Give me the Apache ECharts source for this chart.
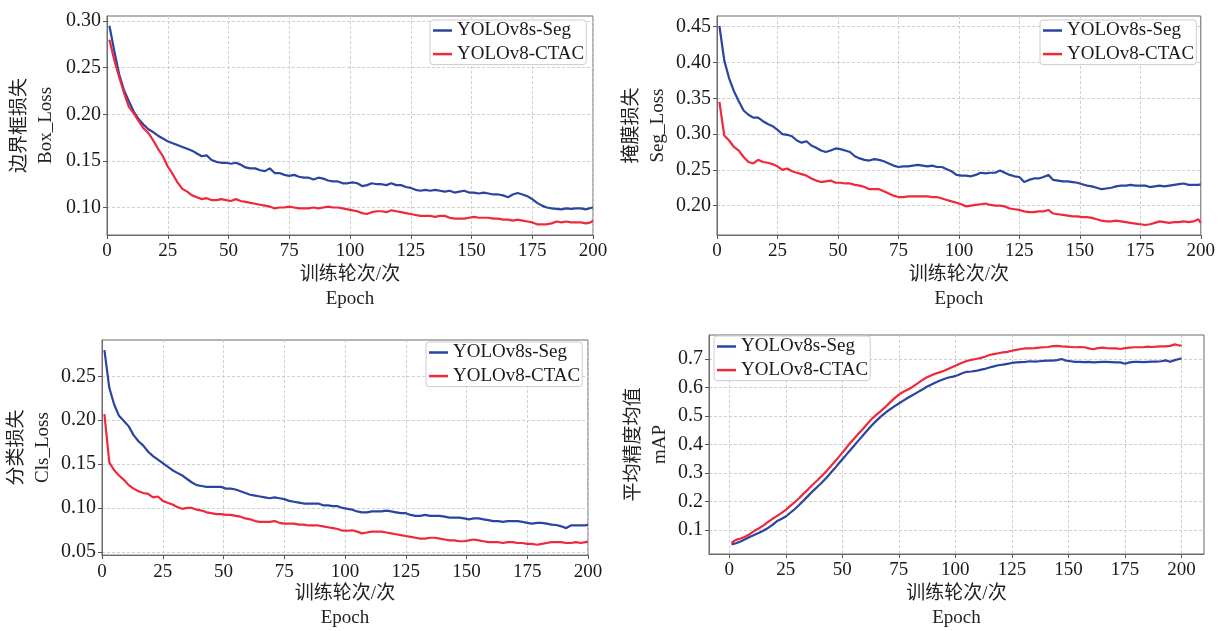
<!DOCTYPE html>
<html><head><meta charset="utf-8">
<script src="https://cdn.jsdelivr.net/npm/echarts@6/dist/echarts.min.js"></script>
<style>html,body{margin:0;padding:0;background:#fff}#c{width:1218px;height:631px}</style>
</head><body><div id="c"></div>
<script>
const epochs = [1,3,5,7,9,11,13,15,17,19,21,23,25,27,29,31,33,35,37,39,41,43,45,47,49,51,53,55,57,59,61,63,65,67,69,71,73,75,77,79,81,83,85,87,89,91,93,95,97,99,101,103,105,107,109,111,113,115,117,119,121,123,125,127,129,131,133,135,137,139,141,143,145,147,149,151,153,155,157,159,161,163,165,167,169,171,173,175,177,179,181,183,185,187,189,191,193,195,197,199,200];

const boxSeg = [0.295,0.268,0.243,0.226,0.214,0.203,0.195,0.189,0.184,0.181,0.177,0.174,0.171,0.169,0.167,0.165,0.163,0.161,0.158,0.155,0.156,0.151,0.149,0.148,0.148,0.147,0.148,0.146,0.143,0.142,0.142,0.140,0.139,0.142,0.137,0.137,0.135,0.134,0.135,0.133,0.132,0.132,0.130,0.132,0.131,0.129,0.128,0.128,0.126,0.126,0.127,0.126,0.123,0.124,0.126,0.125,0.125,0.124,0.126,0.124,0.124,0.122,0.121,0.119,0.118,0.119,0.118,0.119,0.118,0.117,0.118,0.116,0.117,0.118,0.116,0.116,0.115,0.116,0.115,0.114,0.114,0.113,0.111,0.114,0.1155,0.114,0.112,0.109,0.105,0.102,0.100,0.099,0.0985,0.098,0.099,0.0985,0.099,0.099,0.098,0.0995,0.100];
const boxCtac = [0.280,0.258,0.240,0.223,0.208,0.201,0.193,0.185,0.180,0.172,0.163,0.155,0.144,0.136,0.127,0.120,0.117,0.113,0.111,0.109,0.110,0.108,0.108,0.109,0.108,0.107,0.109,0.107,0.106,0.105,0.104,0.103,0.102,0.101,0.099,0.100,0.100,0.101,0.100,0.099,0.099,0.099,0.100,0.099,0.100,0.101,0.100,0.100,0.099,0.098,0.097,0.096,0.094,0.093,0.095,0.096,0.096,0.095,0.097,0.096,0.095,0.094,0.093,0.092,0.091,0.091,0.091,0.090,0.091,0.091,0.089,0.088,0.088,0.088,0.089,0.090,0.089,0.089,0.089,0.088,0.088,0.087,0.087,0.086,0.087,0.086,0.085,0.084,0.082,0.082,0.082,0.083,0.085,0.084,0.085,0.084,0.084,0.084,0.083,0.084,0.086];

const segSeg = [0.451,0.403,0.378,0.360,0.346,0.333,0.327,0.323,0.323,0.318,0.314,0.311,0.306,0.300,0.299,0.297,0.291,0.288,0.290,0.284,0.281,0.277,0.275,0.277,0.280,0.279,0.277,0.275,0.269,0.266,0.264,0.263,0.265,0.264,0.262,0.259,0.256,0.254,0.255,0.255,0.256,0.257,0.256,0.255,0.256,0.254,0.254,0.251,0.248,0.243,0.242,0.242,0.241,0.243,0.246,0.245,0.246,0.246,0.249,0.246,0.243,0.241,0.240,0.233,0.236,0.238,0.238,0.240,0.243,0.236,0.235,0.234,0.234,0.233,0.232,0.230,0.228,0.227,0.225,0.223,0.224,0.225,0.227,0.228,0.228,0.229,0.228,0.228,0.228,0.226,0.227,0.228,0.227,0.228,0.229,0.230,0.231,0.229,0.229,0.229,0.230];
const segCtac = [0.345,0.298,0.291,0.282,0.277,0.268,0.261,0.259,0.264,0.261,0.260,0.258,0.255,0.250,0.252,0.248,0.246,0.244,0.242,0.238,0.235,0.233,0.234,0.235,0.232,0.232,0.231,0.231,0.229,0.228,0.226,0.223,0.223,0.223,0.220,0.217,0.214,0.212,0.212,0.213,0.213,0.213,0.213,0.213,0.212,0.212,0.210,0.208,0.206,0.204,0.202,0.199,0.200,0.201,0.202,0.203,0.201,0.200,0.200,0.199,0.196,0.195,0.194,0.192,0.191,0.191,0.192,0.192,0.194,0.189,0.188,0.187,0.186,0.185,0.185,0.184,0.184,0.183,0.181,0.179,0.178,0.178,0.179,0.178,0.177,0.176,0.175,0.174,0.173,0.174,0.176,0.178,0.177,0.176,0.177,0.177,0.178,0.177,0.178,0.181,0.176];

const clsSeg = [0.280,0.237,0.218,0.205,0.199,0.193,0.183,0.176,0.171,0.164,0.159,0.155,0.151,0.147,0.143,0.140,0.137,0.133,0.129,0.126,0.125,0.124,0.124,0.124,0.124,0.122,0.122,0.121,0.119,0.117,0.115,0.114,0.113,0.112,0.111,0.112,0.111,0.110,0.108,0.107,0.106,0.105,0.105,0.105,0.105,0.103,0.103,0.102,0.102,0.100,0.099,0.098,0.096,0.095,0.095,0.096,0.096,0.096,0.097,0.096,0.095,0.094,0.094,0.092,0.091,0.091,0.092,0.091,0.091,0.091,0.090,0.089,0.089,0.089,0.088,0.087,0.088,0.088,0.087,0.086,0.085,0.085,0.084,0.085,0.085,0.085,0.084,0.083,0.082,0.083,0.083,0.082,0.081,0.0805,0.079,0.077,0.080,0.080,0.080,0.080,0.081];
const clsCtac = [0.207,0.152,0.143,0.137,0.132,0.126,0.122,0.119,0.117,0.116,0.112,0.113,0.108,0.106,0.104,0.101,0.099,0.100,0.100,0.098,0.097,0.095,0.094,0.093,0.093,0.092,0.092,0.091,0.090,0.088,0.087,0.085,0.084,0.084,0.084,0.085,0.083,0.082,0.082,0.082,0.081,0.081,0.080,0.080,0.080,0.079,0.078,0.077,0.076,0.074,0.074,0.0745,0.073,0.071,0.072,0.073,0.073,0.073,0.072,0.071,0.070,0.069,0.068,0.067,0.066,0.065,0.065,0.066,0.066,0.065,0.064,0.063,0.063,0.062,0.062,0.063,0.064,0.063,0.062,0.061,0.061,0.061,0.060,0.061,0.061,0.060,0.060,0.059,0.059,0.058,0.059,0.060,0.061,0.061,0.061,0.060,0.060,0.061,0.060,0.061,0.0615];

const mapSeg = [0.050,0.054,0.060,0.068,0.076,0.083,0.090,0.098,0.107,0.118,0.131,0.139,0.148,0.161,0.174,0.189,0.205,0.221,0.237,0.252,0.267,0.284,0.302,0.320,0.339,0.357,0.376,0.394,0.413,0.431,0.449,0.467,0.483,0.498,0.511,0.523,0.534,0.544,0.554,0.564,0.573,0.582,0.591,0.601,0.609,0.617,0.624,0.630,0.635,0.638,0.643,0.650,0.655,0.656,0.658,0.662,0.665,0.670,0.674,0.678,0.680,0.683,0.686,0.688,0.689,0.690,0.692,0.691,0.692,0.693,0.694,0.694,0.696,0.700,0.694,0.692,0.690,0.690,0.689,0.690,0.688,0.689,0.690,0.690,0.689,0.688,0.688,0.683,0.688,0.690,0.690,0.689,0.690,0.691,0.691,0.692,0.695,0.690,0.696,0.700,0.702];
const mapCtac = [0.056,0.066,0.071,0.077,0.086,0.097,0.106,0.116,0.128,0.139,0.149,0.160,0.171,0.185,0.198,0.213,0.229,0.244,0.260,0.275,0.291,0.307,0.325,0.343,0.362,0.381,0.401,0.419,0.437,0.454,0.472,0.490,0.504,0.517,0.531,0.547,0.562,0.575,0.585,0.593,0.602,0.613,0.624,0.634,0.641,0.648,0.653,0.659,0.666,0.673,0.680,0.687,0.693,0.697,0.700,0.703,0.708,0.714,0.717,0.720,0.723,0.725,0.729,0.732,0.735,0.737,0.737,0.738,0.740,0.741,0.742,0.745,0.746,0.744,0.743,0.742,0.741,0.742,0.741,0.737,0.734,0.738,0.740,0.738,0.737,0.737,0.735,0.738,0.740,0.741,0.741,0.741,0.743,0.742,0.743,0.744,0.744,0.746,0.751,0.747,0.748];

const xTicks = [0,25,50,75,100,125,150,175,200];
const boxTicks = [0.10,0.15,0.20,0.25,0.30];
const segTicks = [0.20,0.25,0.30,0.35,0.40,0.45];
const clsTicks = [0.05,0.10,0.15,0.20,0.25];
const mapTicks = [0.1,0.2,0.3,0.4,0.5,0.6,0.7];
const seriesNames = ['YOLOv8s-Seg','YOLOv8-CTAC'];
const yNames = ['边界框损失\nBox_Loss','掩膜损失\nSeg_Loss','分类损失\nCls_Loss','平均精度均值\nmAP'];
const xName = '训练轮次/次\nEpoch';

const BLUE = '#2A44A0', RED = '#F0283C';
const FONT = "'Liberation Serif','Noto Sans CJK SC',serif";

const panels = [
  {grid:{left:107,top:16,width:486,height:219}, xr:[0,200], yr:[0.0705,0.3055], yt:boxTicks, dec:2, lg:{left:430,top:20}, ng:48, xg:28, d:[boxSeg,boxCtac]},
  {grid:{left:717,top:16,width:485,height:219}, xr:[0,200], yr:[0.159,0.465], yt:segTicks, dec:2, lg:{left:1040,top:20}, ng:46, xg:28, d:[segSeg,segCtac]},
  {grid:{left:102,top:340,width:486,height:220}, xr:[0,200], yr:[0.0462,0.2915], yt:clsTicks, dec:2, lg:{left:426,top:342}, ng:46, xg:26, d:[clsSeg,clsCtac]},
  {grid:{left:709,top:335,width:495,height:223}, xr:[-8.95,209.95], yr:[0.0165,0.784], yt:mapTicks, dec:1, lg:{left:714,top:336}, ng:36, xg:28, d:[mapSeg,mapCtac]}
];

const grid=[], xAxis=[], yAxis=[], series=[], legend=[];
panels.forEach((p,i)=>{
  grid.push(Object.assign({show:true, borderColor:'#6b6b6b', borderWidth:1, backgroundColor:'#fff'}, p.grid));
  xAxis.push({
    type:'value', gridIndex:i, min:p.xr[0], max:p.xr[1],
    name:xName, nameLocation:'middle', nameGap:p.xg,
    nameTextStyle:{fontFamily:FONT,fontSize:19,lineHeight:24,color:'#222'},
    axisLine:{show:true,onZero:false,lineStyle:{color:'#6b6b6b',width:1}},
    axisTick:{show:true,inside:false,length:4,customValues:xTicks,lineStyle:{color:'#555'}},
    axisLabel:{customValues:xTicks,margin:7,fontFamily:FONT,fontSize:19,color:'#1a1a1a',showMinLabel:true,showMaxLabel:true},
    splitLine:{show:true,lineStyle:{color:'#cfcfcf',type:[3,2],width:1}}
  });
  yAxis.push({
    type:'value', gridIndex:i, min:p.yr[0], max:p.yr[1],
    name:yNames[i], nameLocation:'middle', nameRotate:90, nameGap:p.ng,
    nameTextStyle:{fontFamily:FONT,fontSize:19,lineHeight:26,color:'#222'},
    axisLine:{show:true,onZero:false,lineStyle:{color:'#6b6b6b',width:1}},
    axisTick:{show:true,inside:false,length:4,customValues:p.yt,lineStyle:{color:'#555'}},
    axisLabel:{customValues:p.yt,margin:6,fontFamily:FONT,fontSize:20,color:'#1a1a1a',
      formatter:(v)=>Number(v).toFixed(p.dec)},
    splitLine:{show:true,lineStyle:{color:'#cfcfcf',type:[3,2],width:1}}
  });
  [BLUE,RED].forEach((c,k)=>{
    series.push({
      name:seriesNames[k], type:'line', xAxisIndex:i, yAxisIndex:i,
      data:epochs.map((e,j)=>[e,p.d[k][j]]),
      showSymbol:false, symbol:'none', color:c,
      lineStyle:{color:c,width:2.2}, z:2+k, animation:false
    });
  });
  legend.push({
    data:seriesNames, orient:'vertical', left:p.lg.left, top:p.lg.top,
    icon:'rect', itemWidth:19, itemHeight:2.5, itemGap:4.6,
    padding:[1,2,1,3], backgroundColor:'rgba(255,255,255,0.9)',
    borderColor:'#cccccc', borderWidth:1, borderRadius:3,
    textStyle:{fontFamily:FONT,fontSize:19,lineHeight:19,color:'#1a1a1a'},
    selectedMode:false
  });
});

const chart = echarts.init(document.getElementById('c'));
chart.setOption({animation:false, grid, xAxis, yAxis, series, legend});
</script>
</body></html>
